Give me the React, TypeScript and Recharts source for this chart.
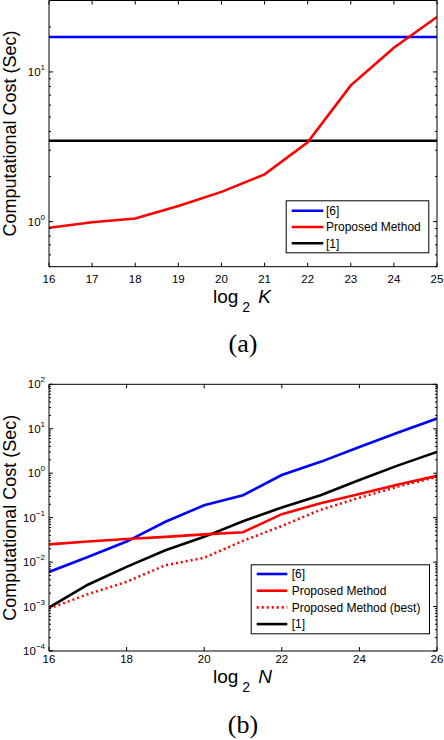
import React from 'react';
import { LineChart, Line, XAxis, YAxis } from 'recharts';

// ---------- Chart (a) data ----------
const kValues = [16, 17, 18, 19, 20, 21, 22, 23, 24, 25];
const costRef6A = [17.1, 17.1, 17.1, 17.1, 17.1, 17.1, 17.1, 17.1, 17.1, 17.1];
const costProposedA = [0.91, 0.99, 1.05, 1.27, 1.58, 2.07, 3.39, 8.13, 14.5, 23.3];
const costRef1A = [3.47, 3.47, 3.47, 3.47, 3.47, 3.47, 3.47, 3.47, 3.47, 3.47];
const xTicksA = [16, 17, 18, 19, 20, 21, 22, 23, 24, 25];
const yTicksA = [0.5, 0.6, 0.7, 0.8, 0.9, 1, 2, 3, 4, 5, 6, 7, 8, 9, 10, 20, 30];
const yDomainA = [0.5, 30];

// ---------- Chart (b) data ----------
const nValues = [16, 17, 18, 19, 20, 21, 22, 23, 24, 25, 26];
const costRef6B = [0.006, 0.013, 0.029, 0.081, 0.19, 0.32, 0.91, 1.8, 3.9, 8.2, 17];
const costProposedB = [0.025, 0.029, 0.033, 0.037, 0.042, 0.047, 0.12, 0.21, 0.34, 0.56, 0.87];
const costBestB = [0.0009, 0.0019, 0.0036, 0.0085, 0.0125, 0.03, 0.065, 0.15, 0.28, 0.5, 0.83];
const costRef1B = [0.00095, 0.0031, 0.0078, 0.0185, 0.037, 0.083, 0.17, 0.32, 0.7, 1.5, 3.0];
const xTicksB = [16, 18, 20, 22, 24, 26];
const decadesB = [1e-4, 1e-3, 1e-2, 1e-1, 1, 10];
const mantissas = [1, 2, 3, 4, 5, 6, 7, 8, 9];
const yTicksB = [...decadesB.flatMap((d) => mantissas.map((m) => +(m * d).toPrecision(3))), 100];
const yDomainB = [1e-4, 100];

const dataA = kValues.map((x, i) => ({ x, ref6: costRef6A[i], prop: costProposedA[i], ref1: costRef1A[i] }));
const dataB = nValues.map((x, i) => ({
  x,
  ref6: costRef6B[i],
  prop: costProposedB[i],
  best: costBestB[i],
  ref1: costRef1B[i],
}));

const FONT = '"Liberation Sans", Arial, Helvetica, sans-serif';
const SERIF = '"Liberation Serif", "Times New Roman", serif';
const BLUE = '#0000ff';
const RED = '#ff0000';
const BLACK = '#000000';

const PLOT_LEFT = 49;
const PLOT_RIGHT = 437;
const PLOT_W = PLOT_RIGHT - PLOT_LEFT;
const AX = 1; // axis thickness reserved (axes with zero size are not drawn)

const isMajor = (v: number) => {
  const l = Math.log10(v);
  return Math.abs(l - Math.round(l)) < 1e-6;
};

const makeYTick = (plotW: number) => (props: any) => {
  const { x, y, payload } = props;
  const v = payload.value as number;
  const major = isMajor(v);
  const len = major ? 4 : 2;
  const e = Math.round(Math.log10(v));
  return (
    <g>
      <line x1={x} x2={x + len} y1={y} y2={y} stroke={BLACK} strokeWidth={1} />
      <line x1={x + plotW} x2={x + plotW - len} y1={y} y2={y} stroke={BLACK} strokeWidth={1} />
      {major && (
        <text x={x - 4} y={y + 4} textAnchor="end" fontSize={11.5} fontFamily={FONT} fill={BLACK}>
          10
          <tspan dy={-6} fontSize={8}>
            {e < 0 ? '\u2212' + -e : String(e)}
          </tspan>
        </text>
      )}
    </g>
  );
};

const makeXTick = (plotH: number, labelDy: number) => (props: any) => {
  const { x, y, payload } = props;
  return (
    <g>
      <line x1={x} x2={x} y1={y} y2={y - 4} stroke={BLACK} strokeWidth={1} />
      <line x1={x} x2={x} y1={y - plotH} y2={y - plotH + 4} stroke={BLACK} strokeWidth={1} />
      <text x={x} y={y + labelDy} textAnchor="middle" fontSize={11.5} fontFamily={FONT} fill={BLACK}>
        {payload.value}
      </text>
    </g>
  );
};

const LINE_W = 2.6;

function ChartA() {
  const top = 0.5;
  const bottom = 266.7;
  const height = 300;
  const plotH = bottom - top;
  return (
    <div style={{ position: 'absolute', left: 0, top: 0 }}>
      <LineChart
        width={444}
        height={height}
        data={dataA}
        margin={{
          top: top - AX,
          right: 444 - PLOT_RIGHT - AX,
          left: PLOT_LEFT - AX,
          bottom: height - bottom - AX,
        }}
      >
        <XAxis
          dataKey="x"
          type="number"
          domain={[16, 25]}
          ticks={xTicksA}
          height={AX}
          tickSize={0}
          tickMargin={0}
          tickLine={false}
          axisLine={{ stroke: BLACK }}
          tick={makeXTick(plotH, 16)}
          interval={0}
          allowDataOverflow
        />
        <XAxis
          xAxisId="top"
          orientation="top"
          dataKey="x"
          type="number"
          domain={[16, 25]}
          height={AX}
          tick={false}
          tickLine={false}
          axisLine={{ stroke: BLACK }}
          allowDataOverflow
        />
        <YAxis
          scale="log"
          type="number"
          domain={yDomainA}
          ticks={yTicksA}
          width={AX}
          tickSize={0}
          tickMargin={0}
          tickLine={false}
          axisLine={{ stroke: BLACK }}
          tick={makeYTick(PLOT_W)}
          interval={0}
          allowDataOverflow
        />
        <YAxis
          yAxisId="right"
          orientation="right"
          scale="log"
          type="number"
          domain={yDomainA}
          width={AX}
          tick={false}
          tickLine={false}
          axisLine={{ stroke: BLACK }}
          allowDataOverflow
        />
        <Line dataKey="ref6" stroke={BLUE} strokeWidth={LINE_W} dot={false} isAnimationActive={false} type="linear" />
        <Line dataKey="ref1" stroke={BLACK} strokeWidth={LINE_W} dot={false} isAnimationActive={false} type="linear" />
        <Line dataKey="prop" stroke={RED} strokeWidth={LINE_W} dot={false} isAnimationActive={false} type="linear" />
      </LineChart>
    </div>
  );
}

function ChartB() {
  const offset = 370;
  const top = 384.3 - offset;
  const bottom = 651 - offset;
  const height = 300;
  const plotH = bottom - top;
  return (
    <div style={{ position: 'absolute', left: 0, top: offset }}>
      <LineChart
        width={444}
        height={height}
        data={dataB}
        margin={{
          top: top - AX,
          right: 444 - PLOT_RIGHT - AX,
          left: PLOT_LEFT - AX,
          bottom: height - bottom - AX,
        }}
      >
        <XAxis
          dataKey="x"
          type="number"
          domain={[16, 26]}
          ticks={xTicksB}
          height={AX}
          tickSize={0}
          tickMargin={0}
          tickLine={false}
          axisLine={{ stroke: BLACK }}
          tick={makeXTick(plotH, 12)}
          interval={0}
          allowDataOverflow
        />
        <XAxis
          xAxisId="top"
          orientation="top"
          dataKey="x"
          type="number"
          domain={[16, 26]}
          height={AX}
          tick={false}
          tickLine={false}
          axisLine={{ stroke: BLACK }}
          allowDataOverflow
        />
        <YAxis
          scale="log"
          type="number"
          domain={yDomainB}
          ticks={yTicksB}
          width={AX}
          tickSize={0}
          tickMargin={0}
          tickLine={false}
          axisLine={{ stroke: BLACK }}
          tick={makeYTick(PLOT_W)}
          interval={0}
          allowDataOverflow
        />
        <YAxis
          yAxisId="right"
          orientation="right"
          scale="log"
          type="number"
          domain={yDomainB}
          width={AX}
          tick={false}
          tickLine={false}
          axisLine={{ stroke: BLACK }}
          allowDataOverflow
        />
        <Line dataKey="ref6" stroke={BLUE} strokeWidth={LINE_W} dot={false} isAnimationActive={false} type="linear" />
        <Line dataKey="ref1" stroke={BLACK} strokeWidth={LINE_W} dot={false} isAnimationActive={false} type="linear" />
        <Line dataKey="prop" stroke={RED} strokeWidth={LINE_W} dot={false} isAnimationActive={false} type="linear" />
        <Line
          dataKey="best"
          stroke={RED}
          strokeWidth={LINE_W}
          strokeDasharray="2 3"
          dot={false}
          isAnimationActive={false}
          type="linear"
        />
      </LineChart>
    </div>
  );
}

const legendA = [
  { label: '[6]', color: BLUE, dash: undefined as string | undefined },
  { label: 'Proposed Method', color: RED, dash: undefined as string | undefined },
  { label: '[1]', color: BLACK, dash: undefined as string | undefined },
];
const legendB = [
  { label: '[6]', color: BLUE, dash: undefined as string | undefined },
  { label: 'Proposed Method', color: RED, dash: undefined as string | undefined },
  { label: 'Proposed Method (best)', color: RED, dash: '2 3' as string | undefined },
  { label: '[1]', color: BLACK, dash: undefined as string | undefined },
];

function LegendBox(props: {
  x: number;
  y: number;
  w: number;
  h: number;
  firstRow: number;
  rowH: number;
  lineX0: number;
  lineX1: number;
  textX: number;
  items: { label: string; color: string; dash?: string }[];
}) {
  const { x, y, w, h, firstRow, rowH, lineX0, lineX1, textX, items } = props;
  return (
    <g>
      <rect x={x + 0.5} y={y + 0.5} width={w} height={h} fill="#ffffff" stroke={BLACK} strokeWidth={1} />
      {items.map((it, i) => {
        const cy = y + firstRow + i * rowH;
        return (
          <g key={i}>
            <line
              x1={x + lineX0}
              x2={x + lineX1}
              y1={cy}
              y2={cy}
              stroke={it.color}
              strokeWidth={LINE_W}
              strokeDasharray={it.dash}
            />
            <text x={x + textX} y={cy + 4.3} fontSize={12} fontFamily={FONT} fill={BLACK}>
              {it.label}
            </text>
          </g>
        );
      })}
    </g>
  );
}

function AxisTitle(props: { x: number; y: number; v: string }) {
  const { x, y, v } = props;
  return (
    <text x={x} y={y} fontSize={19} fontFamily={FONT} fill={BLACK}>
      log
      <tspan dx={4} dy={9} fontSize={14}>
        2
      </tspan>
      <tspan dx={8} dy={-9} fontStyle="italic">
        {v}
      </tspan>
    </text>
  );
}

function Overlay() {
  return (
    <svg
      width={444}
      height={740}
      style={{ position: 'absolute', left: 0, top: 0, pointerEvents: 'none' }}
    >
      <text
        transform="translate(15.5,133.5) rotate(-90)"
        textAnchor="middle"
        fontSize={18}
        fontFamily={FONT}
        fill={BLACK}
      >
        Computational Cost (Sec)
      </text>
      <text
        transform="translate(15.5,517.7) rotate(-90)"
        textAnchor="middle"
        fontSize={18}
        fontFamily={FONT}
        fill={BLACK}
      >
        Computational Cost (Sec)
      </text>
      <AxisTitle x={213} y={302.7} v="K" />
      <AxisTitle x={213} y={682.7} v="N" />
      <text x={243} y={352} textAnchor="middle" fontSize={26} fontFamily={SERIF} fill={BLACK}>
        (a)
      </text>
      <text x={243} y={732.5} textAnchor="middle" fontSize={26} fontFamily={SERIF} fill={BLACK}>
        (b)
      </text>
      <LegendBox
        x={285.7}
        y={200.3}
        w={142.6}
        h={52}
        firstRow={10.4}
        rowH={16.3}
        lineX0={6}
        lineX1={37.6}
        textX={40.3}
        items={legendA}
      />
      <LegendBox
        x={250.7}
        y={564.3}
        w={178.3}
        h={69}
        firstRow={9.7}
        rowH={16.7}
        lineX0={6}
        lineX1={36.6}
        textX={41}
        items={legendB}
      />
    </svg>
  );
}

export default function App() {
  return (
    <div
      style={{
        position: 'absolute',
        left: 0,
        top: 0,
        width: 444,
        height: 740,
        background: '#ffffff',
        overflow: 'hidden',
      }}
    >
      <ChartA />
      <ChartB />
      <Overlay />
    </div>
  );
}
